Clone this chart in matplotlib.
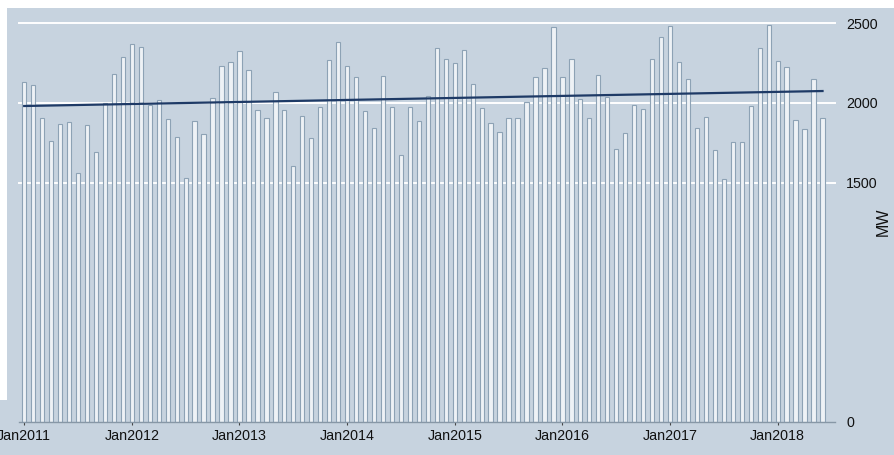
import matplotlib
matplotlib.use("Agg")
import matplotlib.pyplot as plt
import numpy as np
from matplotlib.patches import Rectangle

# Monthly values (MW), Jan 2011 - Jun 2018
values = [2133, 2112, 1904, 1762, 1866, 1881, 1562, 1862, 1691, 2000, 2183, 2287,
          2370, 2350, 1990, 2019, 1900, 1787, 1531, 1885, 1806, 2033, 2229, 2258,
          2329, 2204, 1958, 1908, 2066, 1954, 1604, 1917, 1779, 1977, 2269, 2381,
          2235, 2162, 1950, 1842, 2169, 1973, 1671, 1977, 1887, 2044, 2342, 2275,
          2250, 2335, 2119, 1967, 1873, 1819, 1906, 1906, 2006, 2162, 2217, 2479,
          2162, 2279, 2025, 1904, 2173, 2035, 1712, 1810, 1987, 1962, 2273, 2412,
          2483, 2258, 2152, 1842, 1914, 1704, 1523, 1754, 1754, 1981, 2344, 2492,
          2262, 2227, 1896, 1837, 2148, 1906]
trend_ends = [1981, 2075]
tick_labels = ["Jan2011", "Jan2012", "Jan2013", "Jan2014", "Jan2015",
               "Jan2016", "Jan2017", "Jan2018"]
y_ticks = [0, 1500, 2000, 2500]

bg = "#c7d3df"
plt.rcParams['font.family'] = ['Liberation Sans', 'DejaVu Sans']

fig = plt.figure(figsize=(8.94, 4.55), dpi=100, facecolor=bg)
W, H = 894, 455
left_px, right_px = 19, 835
top_px, bot_px = 23.3, 421.7
ax = fig.add_axes([left_px / W, 1 - bot_px / H, (right_px - left_px) / W, (bot_px - top_px) / H])
ax.set_facecolor(bg)

x = np.arange(len(values))
px_per_month = 8.97
x0 = -(24.2 - left_px) / px_per_month
x1 = x0 + (right_px - left_px) / px_per_month
ax.set_xlim(x0, x1)
ax.set_ylim(0, 2500)

for yv in [1500, 2000, 2500]:
    ax.axhline(yv, color="white", lw=1.4, zorder=0.5, clip_on=False)

ax.bar(x, values, width=0.48, color="#eef2f6", edgecolor="#8da2b5", linewidth=0.8, zorder=2)
ax.plot([x[0], x[-1]], trend_ends, color="#1e3a66", lw=1.6, zorder=3)

for s in ["top", "left", "right"]:
    ax.spines[s].set_visible(False)
ax.spines["bottom"].set_color("#8797a6")
ax.spines["bottom"].set_linewidth(1.0)

ax.set_xticks(np.arange(0, len(values), 12))
ax.set_xticklabels(tick_labels, fontsize=10.3, color="#111111")
ax.tick_params(axis="x", direction="inout", length=4, width=0.8, color="#444444", pad=3)

ax.yaxis.tick_right()
ax.set_yticks(y_ticks)
ax.set_yticklabels([str(v) for v in y_ticks], fontsize=10.3, color="#111111")
ax.tick_params(axis="y", length=0, pad=8)
fig.text(883 / W, 1 - 222 / H, "MW", rotation=90, ha="center", va="center",
         fontsize=11.5, color="#111111")

# white border (cropped graph region)
fig.patches.append(Rectangle((0, 1 - 8 / H), 1, 8 / H, transform=fig.transFigure,
                             facecolor="white", edgecolor="none", zorder=-1))
fig.patches.append(Rectangle((0, 1 - 400 / H), 7 / W, 400 / H, transform=fig.transFigure,
                             facecolor="white", edgecolor="none", zorder=-1))

fig.savefig("out.png", dpi=100, facecolor=bg)
